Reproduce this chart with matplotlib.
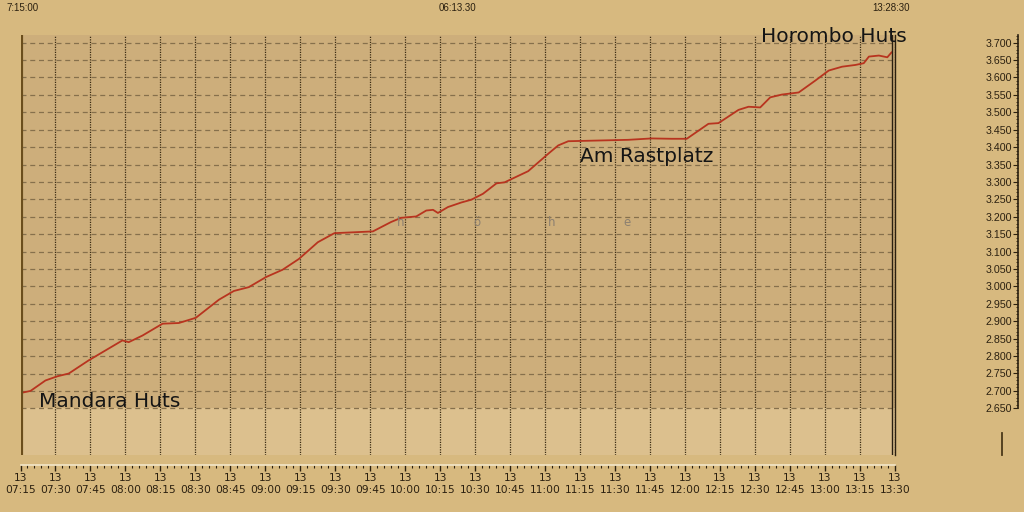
import matplotlib
matplotlib.use("Agg")
import matplotlib.pyplot as plt
import matplotlib.dates as mdates
from matplotlib.ticker import FuncFormatter, MultipleLocator
from matplotlib.lines import Line2D
import numpy as np
import pandas as pd

# ---------------- data ----------------
DAY = "2010-08-13 "
times = ["07:15:00", "07:19:18", "07:25:42", "07:30:48", "07:35:42", "07:44:18",
         "07:58:42", "08:01:24", "08:07:18", "08:15:54", "08:22:54", "08:30:12",
         "08:40:06", "08:46:30", "08:52:54", "09:00:18", "09:07:24", "09:14:24",
         "09:22:30", "09:29:36", "09:46:06", "09:53:54", "09:58:12", "10:04:42",
         "10:09:00", "10:11:54", "10:14:00", "10:18:18", "10:24:00", "10:28:18",
         "10:33:18", "10:39:06", "10:42:36", "10:52:42", "11:01:18", "11:05:36",
         "11:09:54", "11:35:36", "11:45:36", "11:54:12", "12:00:42", "12:10:00",
         "12:14:18", "12:22:54", "12:27:12", "12:32:12", "12:36:30", "12:41:30",
         "12:48:42", "12:55:48", "13:01:36", "13:07:18", "13:13:00", "13:16:36",
         "13:18:48", "13:23:06", "13:26:42", "13:28:30"]
elevation = [2694, 2700, 2730, 2742, 2750, 2788,
             2845, 2840, 2859, 2893, 2895, 2910,
             2962, 2987, 2998, 3027, 3048, 3079,
             3127, 3153, 3158, 3185, 3197, 3201,
             3218, 3220, 3211, 3228, 3241, 3249,
             3266, 3296, 3299, 3331, 3381, 3405,
             3417, 3421, 3425, 3424, 3424, 3467,
             3469, 3507, 3516, 3514, 3543, 3551,
             3557, 3591, 3620, 3631, 3636, 3641,
             3660, 3663, 3658, 3672]

labels = ["Mandara Huts", "Am Rastplatz", "Horombo Huts"]
watermark = ["h", "ö", "h", "e"]
cursor_start = "07:15:00"
cursor_end = "13:28:30"
duration = "06:13.30"
x_start, x_end = "07:15:00", "13:30:00"
y_min, y_max = 2516, 3722
band_low = 2650
y_ticks = list(range(2650, 3701, 50))

# ---------------- style ----------------
FIG_BG = "#D7B97F"
UPPER = "#CDAE7B"
LOWER = "#DCC08E"
DARK = "#2B2010"
LINE = "#B8341F"

t = pd.to_datetime([DAY + s for s in times])
fig = plt.figure(figsize=(10.24, 5.12), dpi=100, facecolor=FIG_BG)

W, H = 1024, 512
def fx(px): return px / W
def fy(py): return 1 - py / H

ax = fig.add_axes([fx(20.5), fy(455), fx(895) - fx(20.5), fy(35) - fy(455)])
ax.set_facecolor(LOWER)
ax.set_xlim(pd.Timestamp(DAY + x_start), pd.Timestamp(DAY + x_end))
ax.set_ylim(y_min, y_max)
ax.axhspan(band_low, y_max, color=UPPER, zorder=0, lw=0)

ax.set_yticks(y_ticks)
ax.tick_params(axis="y", left=False, labelleft=False)
ax.yaxis.grid(True, linestyle=(0, (4, 3)), color="#86704C", lw=0.9)
ax.xaxis.grid(True, linestyle=(0, (1, 1)), color="#3A2C14", lw=0.9)
ax.set_axisbelow(True)

ax.xaxis.set_major_locator(mdates.MinuteLocator(byminute=[0, 15, 30, 45]))
ax.xaxis.set_minor_locator(mdates.MinuteLocator(byminute=range(0, 60, 3)))
ax.xaxis.set_major_formatter(mdates.DateFormatter("%d\n%H:%M"))
ax.tick_params(axis="x", which="major", direction="out", length=4, width=1,
               color=DARK, labelsize=7.7, labelcolor=DARK, pad=2)
ax.tick_params(axis="x", which="minor", direction="out", length=2.2, width=0.8,
               color=DARK)
for lab in ax.get_xticklabels():
    lab.set_fontfamily("Liberation Sans")

for s in ["top", "left"]:
    ax.spines[s].set_visible(False)
ax.spines["right"].set_color(DARK)
ax.spines["right"].set_linewidth(1.0)
ax.spines["bottom"].set_position(("outward", 7.2))
ax.spines["bottom"].set_color("#F3E6C8")
ax.spines["bottom"].set_linewidth(1.2)

ax.plot(t, elevation, color=LINE, lw=1.3, zorder=3)

ax.axvline(pd.Timestamp(DAY + cursor_start), color="#6B4E1C", lw=3, zorder=4)
ax.axvline(pd.Timestamp(DAY + cursor_end), color=DARK, lw=1, zorder=4)

# right elevation axis
ax2 = fig.add_axes([fx(1018), fy(408.3), 0.0005, fy(35) - fy(408.3)])
ax2.set_facecolor("none")
ax2.set_ylim(band_low, y_max)
ax2.set_yticks(y_ticks)
ax2.yaxis.set_minor_locator(MultipleLocator(10))
ax2.yaxis.set_major_formatter(FuncFormatter(lambda v, p: f"{v/1000:.3f}"))
ax2.tick_params(axis="y", which="major", direction="out", length=3.5, color=DARK,
                labelsize=7.7, labelcolor=DARK, pad=1)
ax2.tick_params(axis="y", which="minor", direction="out", length=1.5, color=DARK)
for lab in ax2.get_yticklabels():
    lab.set_fontfamily("Liberation Sans")
ax2.set_xticks([])
for s in ["top", "right", "bottom"]:
    ax2.spines[s].set_visible(False)
ax2.spines["left"].set_color(DARK)
ax2.spines["left"].set_linewidth(1.2)

fig.add_artist(Line2D([fx(1001.7), fx(1001.7)], [fy(455), fy(433)],
                      color="#4A3818", lw=1.3))

# top labels
top_kw = dict(fontsize=7, color=DARK, family="Liberation Sans", va="center")
fig.text(fx(6), fy(8), cursor_start.lstrip("0"), ha="left", **top_kw)
fig.text(fx(457), fy(8), duration, ha="center", **top_kw)
fig.text(fx(891), fy(8), cursor_end, ha="center", **top_kw)

# place labels
lab_kw = dict(fontsize=14.5, color="#151515", family="DejaVu Sans", va="baseline")
fig.text(fx(110), fy(407), labels[0], ha="center", **lab_kw)
fig.text(fx(647), fy(162), labels[1], ha="center", **lab_kw)
fig.text(fx(834), fy(42), labels[2], ha="center", **lab_kw)

# watermark
for i, ch in enumerate(watermark):
    fig.text(fx(401 + 75.5 * i), fy(223), ch, ha="center", va="center",
             fontsize=8.5, color="#8C8070", family="DejaVu Sans")

fig.savefig("out.png", dpi=100, facecolor=FIG_BG)
